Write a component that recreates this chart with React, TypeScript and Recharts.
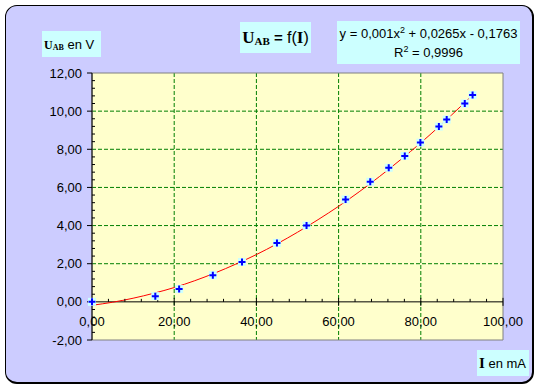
import { ComposedChart, XAxis, YAxis, CartesianGrid, Scatter, Line, ReferenceLine, ReferenceDot, ReferenceArea } from 'recharts'

// measured points: I (mA) and U_AB (V)
const currents = [0, 15.4, 21.2, 29.4, 36.5, 45.0, 52.2, 61.7, 67.7, 72.2, 76.1, 79.9, 84.4, 86.3, 90.7, 92.6]
const voltages = [0, 0.3, 0.67, 1.4, 2.09, 3.09, 4.0, 5.37, 6.3, 7.03, 7.65, 8.35, 9.19, 9.56, 10.4, 10.84]

// polynomial trend line
const trendI = [0, 5, 10, 15, 20, 25, 30, 35, 40, 45, 50, 55, 60, 65, 70, 75, 80, 85, 90, 92.6]
const trendU = [-0.18, -0.02, 0.19, 0.45, 0.75, 1.11, 1.52, 1.98, 2.48, 3.04, 3.65, 4.31, 5.01, 5.77, 6.58, 7.44, 8.34, 9.3, 10.31, 10.85]

const xTicks = [0, 20, 40, 60, 80, 100]
const yTicks = [-2, 0, 2, 4, 6, 8, 10, 12]
const xGrid = [20, 40, 60, 80]
const yGrid = [2, 4, 6, 8, 10]
const xMinor = Array.from({ length: 26 }, (_, i) => i * 4).filter((v) => v % 20 !== 0)
const yMinor = Array.from({ length: 36 }, (_, i) => Math.round((-2 + i * 0.4) * 10) / 10).filter((v) => v % 2 !== 0)

const points = currents.map((x, i) => ({ x, y: voltages[i] }))
const trend = trendI.map((x, i) => ({ x, y: trendU[i] }))

const SANS = '"Liberation Sans", Arial, sans-serif'
const SERIF = '"Liberation Serif", "Times New Roman", serif'
const fmt = (v: number) => v.toFixed(2).replace('.', ',')

function PlusMarker({ cx, cy }: any) {
  return (
    <g>
      <rect x={cx - 4} y={cy - 4} width={8} height={8} fill="#ccffff" />
      <path d={`M${cx - 3.5},${cy}h7M${cx},${cy - 3.5}v7`} stroke="#0000ff" strokeWidth={2} />
    </g>
  )
}

const box = { position: 'absolute' as const, background: '#ccffff', whiteSpace: 'nowrap' as const, color: '#000' }

export default function App() {
  return (
    <div style={{ position: 'fixed', left: 0, top: 0, width: 539, height: 390, background: '#fff' }}>
      <div
        style={{
          position: 'absolute', left: 5, top: 5, width: 529, height: 379, boxSizing: 'border-box',
          background: '#ccccff', border: '1px solid #000', borderRightWidth: 2, borderBottomWidth: 2, borderRadius: 12,
        }}
      />
      <div style={{ position: 'absolute', left: 0, top: 0 }}>
        <ComposedChart width={539} height={390} margin={{ top: 73, right: 36, bottom: 50, left: 0 }}>
          <CartesianGrid
            fill="#ffffcc"
            stroke="#007f00"
            strokeDasharray="4 2"
            horizontalValues={yGrid}
            verticalValues={xGrid}
          />
          <ReferenceArea x1={0} x2={100} y1={-2} y2={12} fill="none" stroke="#808080" />
          <XAxis type="number" dataKey="x" domain={[0, 100]} ticks={xTicks} hide />
          <YAxis
            type="number"
            domain={[-2, 12]}
            ticks={yTicks}
            width={92}
            tickSize={5}
            tickMargin={5}
            tickFormatter={fmt}
            axisLine={{ stroke: '#000' }}
            tickLine={{ stroke: '#000' }}
            tick={{ fill: '#000', fontSize: 13, fontFamily: SANS }}
            interval={0}
          />
          <ReferenceLine y={0} stroke="#000" />
          {yMinor.map((v) => (
            <ReferenceDot
              key={'ym' + v}
              x={0}
              y={v}
              ifOverflow="visible"
              shape={(p: any) => <line x1={p.cx} x2={p.cx + 3} y1={p.cy} y2={p.cy} stroke="#000" />}
            />
          ))}
          {xMinor.map((v) => (
            <ReferenceDot
              key={'xm' + v}
              x={v}
              y={0}
              ifOverflow="visible"
              shape={(p: any) => <line x1={p.cx} x2={p.cx} y1={p.cy - 3} y2={p.cy} stroke="#000" />}
            />
          ))}
          {xTicks.map((v) => (
            <ReferenceDot
              key={'xt' + v}
              x={v}
              y={0}
              ifOverflow="visible"
              shape={(p: any) => (
                <g>
                  <line x1={p.cx} x2={p.cx} y1={p.cy - 4} y2={p.cy + 4} stroke="#000" />
                  <text x={p.cx} y={p.cy + 24} textAnchor="middle" fontSize={13} fontFamily={SANS} fill="#000">
                    {fmt(v)}
                  </text>
                </g>
              )}
            />
          ))}
          <Scatter data={points} dataKey="y" shape={PlusMarker} isAnimationActive={false} />
          <Line
            data={trend}
            dataKey="y"
            type="monotone"
            stroke="#ff0000"
            strokeWidth={1}
            dot={false}
            activeDot={false}
            isAnimationActive={false}
          />
        </ComposedChart>
      </div>

      <div style={{ ...box, left: 42, top: 31, width: 59, height: 26, lineHeight: '26px', paddingLeft: 2, boxSizing: 'border-box' }}>
        <span style={{ fontFamily: SERIF, fontWeight: 'bold', fontSize: 12 }}>U</span>
        <span style={{ fontFamily: SERIF, fontWeight: 'bold', fontSize: 8, verticalAlign: '-1px' }}>AB</span>
        <span style={{ fontFamily: SANS, fontSize: 13 }}> en V</span>
      </div>

      <div style={{ ...box, left: 240, top: 22, width: 71, height: 31, lineHeight: '31px', textAlign: 'center' }}>
        <span style={{ fontFamily: SERIF, fontWeight: 'bold', fontSize: 17 }}>U</span>
        <span style={{ fontFamily: SERIF, fontWeight: 'bold', fontSize: 11, verticalAlign: '-2px' }}>AB</span>
        <span style={{ fontFamily: SANS, fontWeight: 'bold', fontSize: 15 }}> = </span>
        <span style={{ fontFamily: SANS, fontSize: 16 }}>f(</span>
        <span style={{ fontFamily: SERIF, fontWeight: 'bold', fontSize: 17 }}>I</span>
        <span style={{ fontFamily: SANS, fontSize: 16 }}>)</span>
      </div>

      <div
        style={{
          ...box, left: 337, top: 21, width: 183, height: 43, paddingTop: 4, boxSizing: 'border-box',
          fontFamily: SANS, fontSize: 13, lineHeight: '18px', textAlign: 'center',
        }}
      >
        <div>
          y = 0,001x<span style={{ fontSize: 9, position: 'relative', top: -5 }}>2</span> + 0,0265x - 0,1763
        </div>
        <div>
          R<span style={{ fontSize: 9, position: 'relative', top: -5 }}>2</span> = 0,9996
        </div>
      </div>

      <div style={{ ...box, left: 477, top: 350, width: 52, height: 26, lineHeight: '26px', paddingLeft: 2, boxSizing: 'border-box' }}>
        <span style={{ fontFamily: SERIF, fontWeight: 'bold', fontSize: 15 }}>I</span>
        <span style={{ fontFamily: SANS, fontSize: 13 }}> en mA</span>
      </div>
    </div>
  )
}
